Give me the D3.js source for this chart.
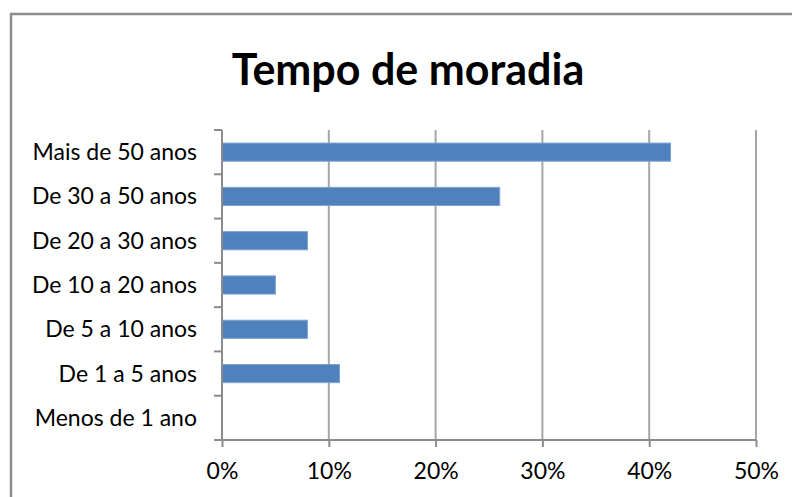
<!DOCTYPE html>
<html>
<head>
<meta charset="utf-8">
<script src="https://cdn.jsdelivr.net/npm/d3@7"></script>
<style>
	body { margin: 0; background: #fff; }
	svg { display: block; }
	text { font-family: Lato, "Open Sans", sans-serif; fill: #000; }
</style>
</head>
<body>
<div id="chart"></div>
<script>
// data
var categories = [
	'Mais de 50 anos',
	'De 30 a 50 anos',
	'De 20 a 30 anos',
	'De 10 a 20 anos',
	'De 5 a 10 anos',
	'De 1 a 5 anos',
	'Menos de 1 ano'
];
var values = [0.42, 0.26, 0.08, 0.05, 0.08, 0.11, 0];
var x_ticks = [0, 0.1, 0.2, 0.3, 0.4, 0.5];
var title = 'Tempo de moradia';

// chart
var width = 792, height = 497;
var plot = {left: 222, right: 756, top: 130, bottom: 440};

var svg = d3.select('#chart').append('svg')
	.attr('width', width)
	.attr('height', height);

// outer frame
svg.append('path')
	.attr('d', 'M11,' + (height + 5) + 'V14H' + (width + 5))
	.attr('fill', 'none')
	.attr('stroke', '#8c8c8c')
	.attr('stroke-width', 2.5);

svg.append('text')
	.attr('x', 408)
	.attr('y', 85)
	.attr('text-anchor', 'middle')
	.attr('font-size', 43)
	.attr('font-weight', 'bold')
	.text(title);

var x_scale = d3.scaleLinear().domain([0, 0.5]).range([plot.left, plot.right]);
var y_scale = d3.scaleBand().domain(categories).range([plot.top, plot.bottom]).paddingInner(0.59).paddingOuter(0.295);
var y_edges = d3.scalePoint().domain(d3.range(categories.length + 1)).range([plot.top, plot.bottom]);

// gridlines
svg.append('g').selectAll('line')
	.data(x_ticks.slice(1))
	.enter().append('line')
	.attr('x1', function(d) { return x_scale(d); })
	.attr('x2', function(d) { return x_scale(d); })
	.attr('y1', plot.top)
	.attr('y2', plot.bottom)
	.attr('stroke', '#a6a6a6')
	.attr('stroke-width', 2);

// bars
svg.append('g').selectAll('rect')
	.data(values)
	.enter().append('rect')
	.attr('x', x_scale(0))
	.attr('y', function(d, i) { return y_scale(categories[i]); })
	.attr('width', function(d) { return x_scale(d) - x_scale(0); })
	.attr('height', y_scale.bandwidth())
	.attr('fill', '#4f81bd')
	.attr('stroke', function(d) { return d > 0 ? '#7ea3d3' : 'none'; })
	.attr('stroke-width', 1);

// x axis
var x_axis = svg.append('g')
	.attr('transform', 'translate(0,' + plot.bottom + ')')
	.call(d3.axisBottom(x_scale).tickValues(x_ticks).tickFormat(d3.format('.0%')).tickSize(7).tickPadding(16).tickSizeOuter(0));
x_axis.select('.domain').attr('stroke', '#8c8c8c').attr('stroke-width', 2)
	.attr('d', 'M' + (plot.left - 8) + ',0H' + plot.right);
x_axis.selectAll('.tick line').attr('stroke', '#8c8c8c').attr('stroke-width', 2);
x_axis.selectAll('text').attr('font-size', 23).attr('font-family', 'Lato, sans-serif').attr('fill', '#000');

// y axis
var y_axis = svg.append('g');
y_axis.append('line')
	.attr('x1', plot.left).attr('x2', plot.left)
	.attr('y1', plot.top).attr('y2', plot.bottom)
	.attr('stroke', '#8c8c8c').attr('stroke-width', 2);
y_axis.selectAll('.tk')
	.data(d3.range(categories.length))
	.enter().append('line')
	.attr('x1', plot.left - 8).attr('x2', plot.left)
	.attr('y1', function(d) { return y_edges(d); })
	.attr('y2', function(d) { return y_edges(d); })
	.attr('stroke', '#8c8c8c').attr('stroke-width', 2);
y_axis.selectAll('text')
	.data(categories)
	.enter().append('text')
	.attr('x', 197)
	.attr('y', function(d) { return y_scale(d) + y_scale.bandwidth() / 2; })
	.attr('dy', '0.35em')
	.attr('text-anchor', 'end')
	.attr('font-size', 23)
	.text(function(d) { return d; });
</script>
</body>
</html>
